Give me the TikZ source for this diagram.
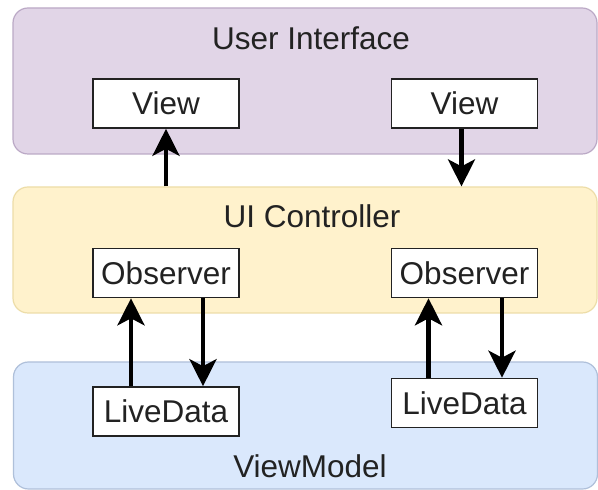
\documentclass[tikz,border=0pt]{standalone}
\usepackage{fontspec}
\setmainfont{Liberation Sans}
\usepackage{tikz}
\usetikzlibrary{arrows.meta,positioning}

\definecolor{uiFill}{HTML}{E1D5E7}
\definecolor{uiLine}{HTML}{BBA9C6}
\definecolor{ctrlFill}{HTML}{FFF2CC}
\definecolor{ctrlLine}{HTML}{EDDDA8}
\definecolor{vmFill}{HTML}{DAE8FC}
\definecolor{vmLine}{HTML}{AFC0DA}
\definecolor{ink}{HTML}{222222}

\newcommand{\LayerText}[1]{{\fontsize{31.5}{36}\selectfont #1}}

\tikzset{
  panel/.style={rounded corners=15pt, line width=1.2pt, minimum width=584pt, inner sep=0pt},
  box/.style={draw=ink, fill=white, line width=1.6pt, minimum width=146pt,
    minimum height=49pt, inner sep=0pt, text=ink, font=\fontsize{31.5}{36}\selectfont},
  flow/.style={-{Stealth[length=27pt, width=27pt, inset=7pt]}, line width=4.5pt, draw=black}
}

\begin{document}
\begin{tikzpicture}[x=1pt, y=1pt]

  \clip (0,0) rectangle (598,490);
  \fill[white] (0,0) rectangle (598,490);

  %% layers
  \node[panel, draw=uiLine, fill=uiFill, minimum height=146pt] (ui) at (305, 409) {};
  \node[panel, draw=ctrlLine, fill=ctrlFill, minimum height=126pt] (ctrl) at (305, 240) {};
  \node[panel, draw=vmLine, fill=vmFill, minimum height=127pt] (vm) at (305.5, 64.5) {};

  \node[anchor=base, text=ink] (uiLabel) at (311, 440) {\LayerText{User Interface}};
  \node[anchor=base, text=ink] (ctrlLabel) at (312, 262) {\LayerText{UI Controller}};
  \node[anchor=base, text=ink] (vmLabel) at (310, 12) {\LayerText{ViewModel}};

  %% boxes
  \node[box] (view1) at (166, 386.5) {View};
  \node[box] (view2) at (464.5, 386.5) {View};
  \node[box] (obs1) at (166, 217) {Observer};
  \node[box] (obs2) at (464.5, 217) {Observer};
  \node[box] (live1) at (166, 78.5) {LiveData};
  \node[box] (live2) at (464.5, 87) {LiveData};

  \draw[flow] (view1.south |- ctrl.north) -- (view1.south); %% ctrl->view
  \draw[flow] ([xshift=-3pt]view2.south) -- ([xshift=-3pt]view2.south |- ctrl.north); %% view->ctrl

  \draw[flow] ([xshift=-35pt]live1.north) -- ([xshift=-35pt]obs1.south);
  \draw[flow] ([xshift=37pt]obs1.south) -- ([xshift=37pt]live1.north);
  \draw[flow] ([xshift=-36pt]live2.north) -- ([xshift=-36pt]obs2.south);
  \draw[flow] ([xshift=37.5pt]obs2.south) -- ([xshift=37.5pt]live2.north);

\end{tikzpicture}
\end{document}
